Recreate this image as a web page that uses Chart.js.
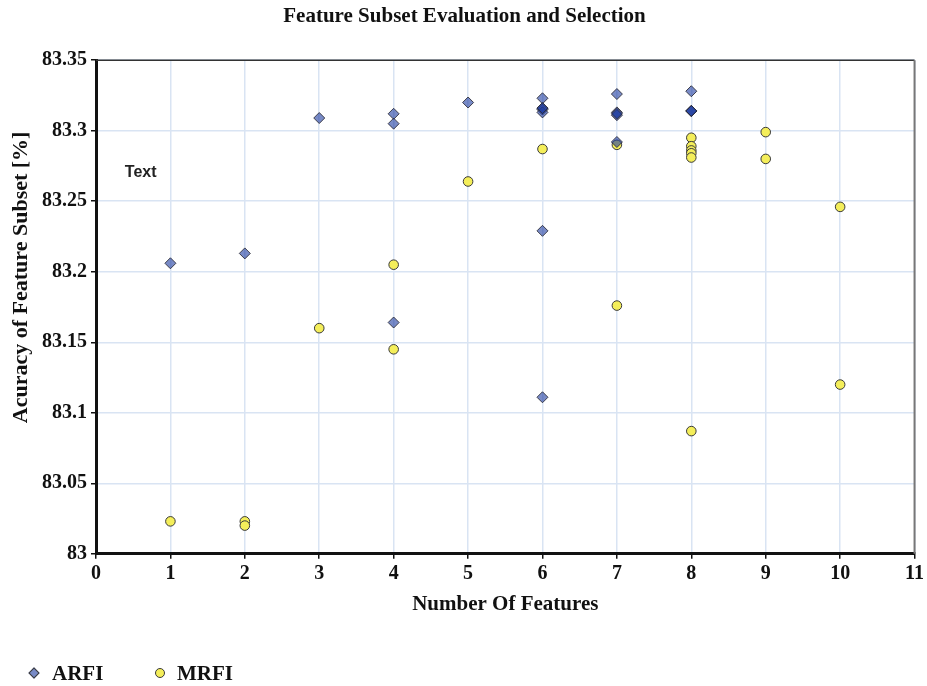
<!DOCTYPE html>
<html lang="en">
<head>
<meta charset="UTF-8">
<title>Feature Subset Evaluation and Selection</title>
<script src="https://cdn.jsdelivr.net/npm/chart.js"></script>
<style>
    html, body { margin: 0; padding: 0; background: #fff; }
    #wrap { position: relative; width: 927px; height: 686px; }
    #legend {
        position: absolute; left: 0; top: 660px;
        font: bold 21px 'Liberation Serif', 'Times New Roman', serif;
        color: #111;
    }
    #legend .item { position: absolute; top: 0; white-space: nowrap; line-height: 26px; }
    #legend .mark { position: absolute; top: 8px; left: 0; box-sizing: border-box; border: 1px solid #3a3a3a; }
    #legend .diamond { width: 8px; height: 8px; transform: rotate(45deg); top: 9px; }
    #legend .circle { width: 10px; height: 10px; border-radius: 50%; }
    #legend .label { position: absolute; left: 22px; top: 0; }
</style>
</head>
<body>
<div id="wrap">
    <canvas id="chart" width="927" height="686"></canvas>
    <div id="legend"></div>
</div>
<script>
    // ARFI points (number of features, accuracy %)
    const arfiX = [1, 2, 3, 4, 4, 4, 5, 6, 6, 6, 6, 6, 6, 6, 7, 7, 7, 7, 7, 8, 8, 8, 8];
    const arfiY = [83.206, 83.213, 83.309, 83.312, 83.305, 83.164, 83.320, 83.323, 83.316, 83.315, 83.313, 83.229, 83.111, 83.316,
                   83.326, 83.313, 83.311, 83.312, 83.292, 83.328, 83.314, 83.314, 83.314];
    // MRFI points
    const mrfiX = [1, 2, 2, 3, 4, 4, 5, 6, 7, 7, 8, 8, 8, 8, 8, 8, 9, 9, 10, 10];
    const mrfiY = [83.023, 83.023, 83.020, 83.160, 83.205, 83.145, 83.264, 83.287, 83.290, 83.176,
                   83.295, 83.289, 83.286, 83.284, 83.281, 83.087, 83.299, 83.280, 83.246, 83.120];

    const xTicks = [0, 1, 2, 3, 4, 5, 6, 7, 8, 9, 10, 11];
    const yTicks = [83, 83.05, 83.1, 83.15, 83.2, 83.25, 83.3, 83.35];

    const arfiFill = 'rgba(30, 60, 160, 0.6)';
    const mrfiFill = '#f4ee5a';
    const serif = "'Liberation Serif', 'Times New Roman', serif";

    function pts(xs, ys) {
        return xs.map((x, i) => ({ x: x, y: ys[i] }));
    }

    // frame on top/right, y axis title (sits above centre) and the "Text" note
    const extras = {
        id: 'extras',
        afterDraw(chart) {
            const { ctx, chartArea: a, scales } = chart;
            ctx.save();
            ctx.strokeStyle = '#333';
            ctx.lineWidth = 1.5;
            ctx.beginPath();
            ctx.moveTo(a.left, a.top);
            ctx.lineTo(a.right, a.top);
            ctx.stroke();
            ctx.strokeStyle = '#777';
            ctx.lineWidth = 2;
            ctx.beginPath();
            ctx.moveTo(a.right, a.top);
            ctx.lineTo(a.right, a.bottom);
            ctx.stroke();

            ctx.fillStyle = '#111';
            ctx.font = 'bold 22px ' + serif;
            ctx.textAlign = 'center';
            ctx.textBaseline = 'middle';
            ctx.translate(21, scales.y.getPixelForValue(83.196));
            ctx.rotate(-Math.PI / 2);
            ctx.fillText('Acuracy of Feature Subset [%]', 0, 0);
            ctx.setTransform(1, 0, 0, 1, 0, 0);

            ctx.fillStyle = '#222';
            ctx.font = "bold 16px 'Liberation Sans', Arial, sans-serif";
            ctx.fillText('Text', scales.x.getPixelForValue(0.6), scales.y.getPixelForValue(83.27));
            ctx.restore();
        }
    };

    const chart = new Chart(document.getElementById('chart'), {
        type: 'scatter',
        data: {
            datasets: [
                {
                    label: 'ARFI',
                    data: pts(arfiX, arfiY),
                    pointStyle: 'rectRot',
                    pointRadius: 5.5,
                    pointBackgroundColor: arfiFill,
                    pointBorderColor: 'rgba(40, 40, 50, 0.85)',
                    pointBorderWidth: 1
                },
                {
                    label: 'MRFI',
                    data: pts(mrfiX, mrfiY),
                    pointStyle: 'circle',
                    pointRadius: 4.8,
                    pointBackgroundColor: mrfiFill,
                    pointBorderColor: '#3a3a3a',
                    pointBorderWidth: 1
                }
            ]
        },
        options: {
            responsive: false,
            animation: false,
            layout: { padding: { left: 8, right: 6, top: 2, bottom: 69 } },
            plugins: {
                title: {
                    display: true,
                    text: 'Feature Subset Evaluation and Selection',
                    color: '#111',
                    font: { family: serif, size: 21, weight: 'bold' },
                    padding: { top: 2, bottom: 31 }
                },
                legend: { display: false },
                tooltip: { enabled: false }
            },
            scales: {
                x: {
                    type: 'linear',
                    min: 0,
                    max: 11,
                    afterBuildTicks: (s) => { s.ticks = xTicks.map(v => ({ value: v })); },
                    ticks: {
                        color: '#111',
                        padding: 3,
                        font: { family: serif, size: 20, weight: 'bold' },
                        callback: (v) => String(v)
                    },
                    grid: { color: '#d9e4f3', lineWidth: 1.5, tickColor: '#111', tickLength: 5 },
                    border: { color: '#111', width: 3 },
                    title: {
                        display: true,
                        text: 'Number Of Features',
                        color: '#111',
                        font: { family: serif, size: 21, weight: 'bold' },
                        padding: { top: 3, bottom: 0 }
                    }
                },
                y: {
                    type: 'linear',
                    min: 83,
                    max: 83.35,
                    afterBuildTicks: (s) => { s.ticks = yTicks.map(v => ({ value: v })); },
                    afterFit: (s) => { s.width += 30; },
                    ticks: {
                        color: '#111',
                        padding: 4,
                        font: { family: serif, size: 20, weight: 'bold' },
                        callback: (v) => String(Number(v.toFixed(2)))
                    },
                    grid: { color: '#d9e4f3', lineWidth: 1.5, tickColor: '#111', tickLength: 5 },
                    border: { color: '#111', width: 3 }
                }
            }
        },
        plugins: [extras]
    });

    // legend built from the datasets
    const legendPos = [30, 155];
    const legend = document.getElementById('legend');
    chart.data.datasets.forEach((ds, i) => {
        const item = document.createElement('div');
        item.className = 'item';
        item.style.left = legendPos[i] + 'px';
        const mark = document.createElement('span');
        mark.className = 'mark ' + (ds.pointStyle === 'rectRot' ? 'diamond' : 'circle');
        mark.style.background = ds.pointBackgroundColor;
        const label = document.createElement('span');
        label.className = 'label';
        label.textContent = ds.label;
        item.appendChild(mark);
        item.appendChild(label);
        legend.appendChild(item);
    });
</script>
</body>
</html>
